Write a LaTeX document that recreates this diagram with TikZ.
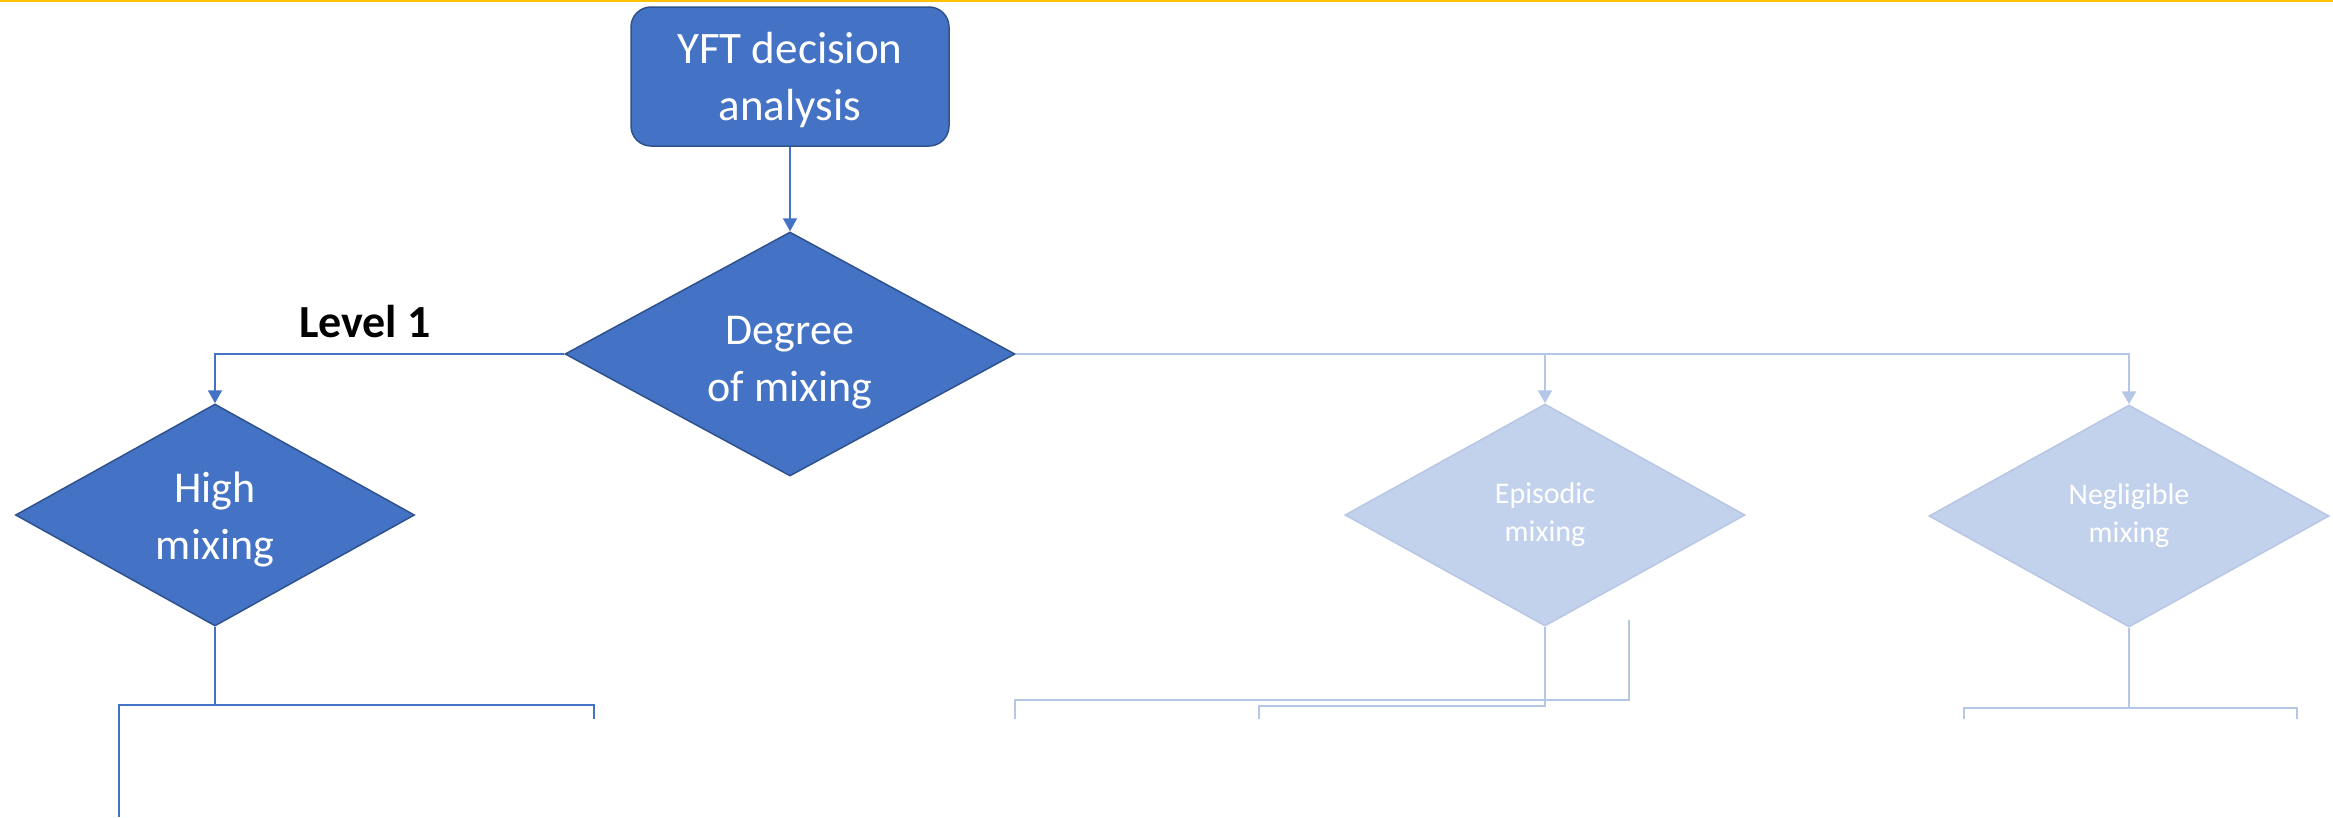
\documentclass[tikz,border=0pt]{standalone}
\usepackage{fontspec}
\setmainfont{Carlito}
\usetikzlibrary{shapes.geometric,arrows.meta}
\definecolor{dblue}{HTML}{4472C4}
\definecolor{dborder}{HTML}{2F528F}
\definecolor{lblue}{HTML}{C3D2EC}
\definecolor{lborder}{HTML}{B7C6E2}
\definecolor{lline}{HTML}{B4C7E7}
\definecolor{gold}{HTML}{FFC000}
\begin{document}
\begin{tikzpicture}[x=1pt,y=-1pt,
  darkbox/.style={rectangle,rounded corners=20pt,fill=dblue,draw=dborder,line width=1.5pt,
    minimum width=318pt,minimum height=139pt,inner sep=0pt,text=white,align=center,
    font=\fontsize{45}{57}\selectfont},
  darkdia/.style={diamond,aspect=2,fill=dblue,draw=dborder,line width=1.5pt,inner sep=0pt,
    text=white,align=center,font=\fontsize{44}{57}\selectfont},
  lightdia/.style={diamond,aspect=2,fill=lblue,draw=lborder,line width=1.5pt,inner sep=0pt,
    minimum width=400pt,minimum height=222pt,
    text=white,align=center,font=\fontsize{30}{38}\selectfont},
  dline/.style={draw=dblue,line width=2pt},
  lline/.style={draw=lline,line width=2.5pt},
  darrow/.style={dline,-{Triangle[width=14pt,length=13pt]}},
  larrow/.style={lline,-{Triangle[width=14pt,length=13pt]}}
]
\useasboundingbox (0,0) rectangle (2333,817);
\fill[gold] (0,0) rectangle (2333,1.5);

\node[darkbox] (yft) at (790,76.5) {\rule{0pt}{38pt}YFT decision\\analysis};
\node[darkdia,minimum width=450pt,minimum height=244pt] (deg) at (790,354) {\rule{0pt}{45pt}Degree\\of mixing};
\node[darkdia,minimum width=399pt,minimum height=222pt] (high) at (215,515) {\rule{0pt}{39pt}High\\mixing};
\node[lightdia] (epi) at (1545,515) {Episodic\\mixing};
\node[lightdia] (neg) at (2129,516) {Negligible\\mixing};
\node[font=\bfseries\fontsize{46}{50}\selectfont] (lvl) at (365,322) {Level 1};

\draw[darrow] (yft.south) -- (deg.north);
\draw[darrow] (deg.west) -| (high.north);
\draw[larrow] (deg.east) -| (epi.north);
\draw[larrow] (deg.east) -| (neg.north);

% below High mixing
\coordinate (hL) at (119,817);
\coordinate (hR) at (594,719);
\draw[dline] (high.south) -- (high.south |- 0,705);
\draw[dline] (hL) -- (hL |- 0,705) -- (hR |- 0,705) -- (hR);

% below Episodic mixing
\coordinate (eA) at (1259,719);
\coordinate (eB) at (1015,719);
\coordinate (eC) at (1629,620);
\draw[lline] (epi.south) -- (epi.south |- 0,706) -| (eA);
\draw[lline] (eC) -- (eC |- 0,700) -| (eB);

% below Negligible mixing
\coordinate (nL) at (1964,719);
\coordinate (nR) at (2297,719);
\draw[lline] (neg.south) -- (neg.south |- 0,708);
\draw[lline] (nL) -- (nL |- 0,708) -- (nR |- 0,708) -- (nR);
\end{tikzpicture}
\end{document}
